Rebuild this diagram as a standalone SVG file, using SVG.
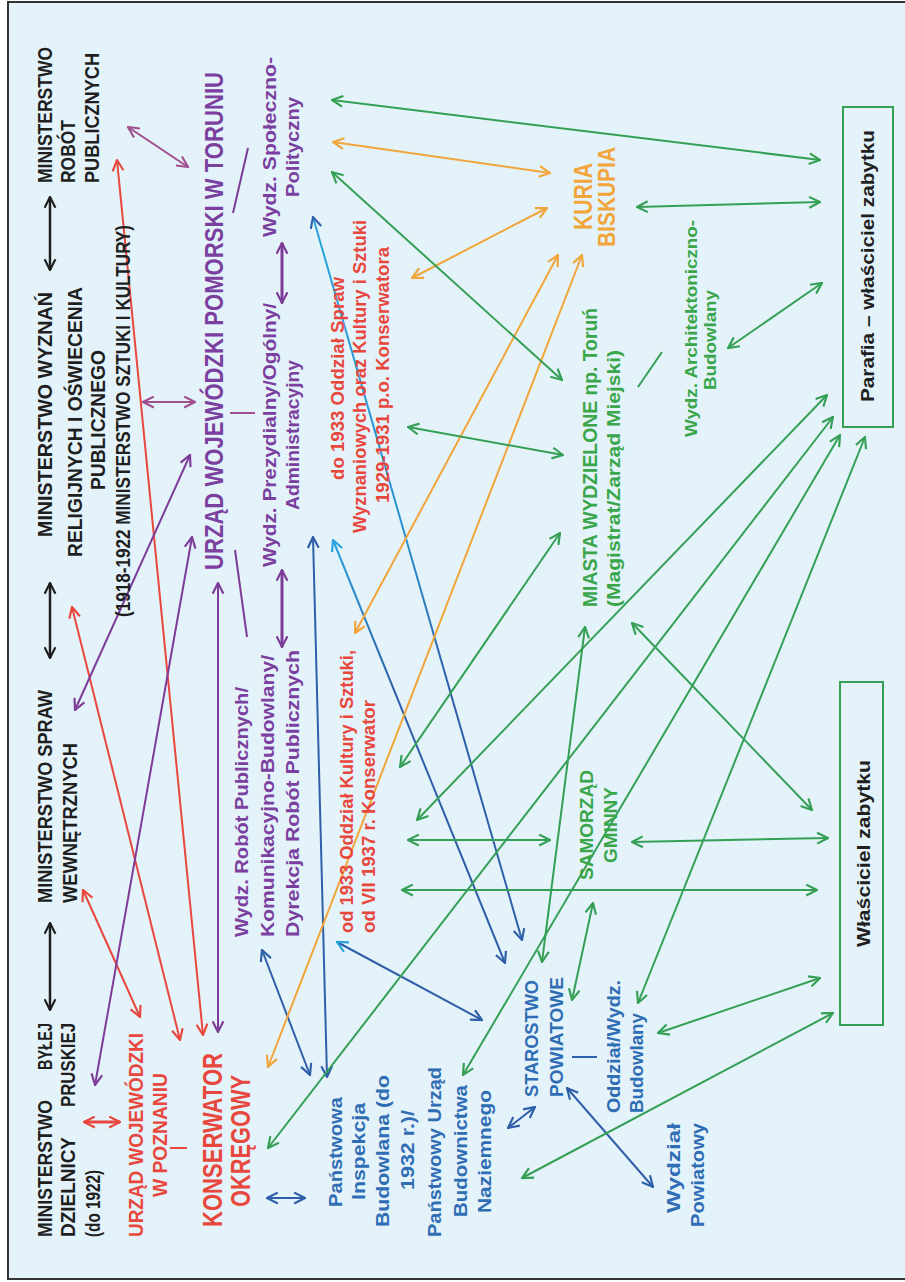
<svg xmlns="http://www.w3.org/2000/svg" width="905" height="1282" viewBox="0 0 905 1282">
<defs>
<style>
text{font-family:"Liberation Sans",Arial,sans-serif;font-weight:bold}
.blk{fill:#1f1f1f}.red{fill:#e8473d}.pur{fill:#7b3f9f}.blu{fill:#2f6db4}.org{fill:#f2a53b}.grn{fill:#39a64a}
.c{fill:none;stroke-width:2}
.ck{stroke:#1f1f1f;stroke-width:2.5;marker-start:url(#mk);marker-end:url(#mk)}
.cr{stroke:#e8473d;marker-start:url(#mr);marker-end:url(#mr)}
.cp{stroke:#7d3c98;marker-start:url(#mp);marker-end:url(#mp)}
.cq{stroke:#a0508f;marker-start:url(#mq);marker-end:url(#mq)}
.cb{stroke:#2f5fa8;marker-start:url(#mb);marker-end:url(#mb)}
.co{stroke:#f2a53b;marker-start:url(#mo);marker-end:url(#mo)}
.cg{stroke:#35a055;marker-start:url(#mg);marker-end:url(#mg)}
.sep{fill:none;stroke-width:2}
</style>
<linearGradient id="gb4" gradientUnits="userSpaceOnUse" x1="313" y1="217" x2="522" y2="940"><stop offset="0" stop-color="#29a3dc"/><stop offset="0.45" stop-color="#2a8fd0"/><stop offset="0.65" stop-color="#2f5fa8"/><stop offset="1" stop-color="#2f5fa8"/></linearGradient>
<linearGradient id="gb5" gradientUnits="userSpaceOnUse" x1="333" y1="540" x2="505" y2="963"><stop offset="0" stop-color="#29a3dc"/><stop offset="0.35" stop-color="#2f5fa8"/><stop offset="1" stop-color="#2f5fa8"/></linearGradient>
<marker id="mk" viewBox="0 0 12 12" refX="11" refY="6" markerWidth="13" markerHeight="13" markerUnits="userSpaceOnUse" orient="auto-start-reverse"><path d="M1,1 L11,6 L1,11" fill="none" stroke="#1f1f1f" stroke-width="2"/></marker>
<marker id="mr" viewBox="0 0 12 12" refX="11" refY="6" markerWidth="13" markerHeight="13" markerUnits="userSpaceOnUse" orient="auto-start-reverse"><path d="M1,1 L11,6 L1,11" fill="none" stroke="#e8473d" stroke-width="2"/></marker>
<marker id="mp" viewBox="0 0 12 12" refX="11" refY="6" markerWidth="13" markerHeight="13" markerUnits="userSpaceOnUse" orient="auto-start-reverse"><path d="M1,1 L11,6 L1,11" fill="none" stroke="#7d3c98" stroke-width="2"/></marker>
<marker id="mq" viewBox="0 0 12 12" refX="11" refY="6" markerWidth="13" markerHeight="13" markerUnits="userSpaceOnUse" orient="auto-start-reverse"><path d="M1,1 L11,6 L1,11" fill="none" stroke="#a0508f" stroke-width="2"/></marker>
<marker id="mb" viewBox="0 0 12 12" refX="11" refY="6" markerWidth="13" markerHeight="13" markerUnits="userSpaceOnUse" orient="auto-start-reverse"><path d="M1,1 L11,6 L1,11" fill="none" stroke="#2f5fa8" stroke-width="2"/></marker>
<marker id="mc" viewBox="0 0 12 12" refX="11" refY="6" markerWidth="13" markerHeight="13" markerUnits="userSpaceOnUse" orient="auto-start-reverse"><path d="M1,1 L11,6 L1,11" fill="none" stroke="#29a3dc" stroke-width="2"/></marker>
<marker id="mo" viewBox="0 0 12 12" refX="11" refY="6" markerWidth="13" markerHeight="13" markerUnits="userSpaceOnUse" orient="auto-start-reverse"><path d="M1,1 L11,6 L1,11" fill="none" stroke="#f2a53b" stroke-width="2"/></marker>
<marker id="mg" viewBox="0 0 12 12" refX="11" refY="6" markerWidth="13" markerHeight="13" markerUnits="userSpaceOnUse" orient="auto-start-reverse"><path d="M1,1 L11,6 L1,11" fill="none" stroke="#35a055" stroke-width="2"/></marker>
</defs>
<rect x="0" y="0" width="905" height="1282" fill="#ffffff"/>
<rect x="8" y="2" width="905" height="1277" fill="#e4f3fa" stroke="#333333" stroke-width="2"/>

<g id="connectors">
<path class="c ck" d="M50,197 L50,270"/>
<path class="c ck" d="M50,583 L50,658"/>
<path class="c ck" d="M50,923 L50,1010"/>
<path class="c cr" d="M83,890 L140,1017"/>
<path class="c cr" d="M72,607 L180,1040"/>
<path class="c cr" d="M117,160 L203,1035"/>
<path class="c cr" style="stroke-width:3" d="M84,1122 L120,1122"/>
<path class="c cp" d="M192,537 L95,1085"/>
<path class="c cp" d="M190,455 L75,710"/>
<path class="c cq" d="M128,127 L188,167"/>
<path class="c cq" d="M143,402 L195,402"/>
<path class="c cp" d="M218,583 L218,1032"/>
<path class="c cp" style="stroke-width:3" d="M282,243 L282,303"/>
<path class="c cp" style="stroke-width:3" d="M282,570 L282,647"/>
<path class="c cb" d="M267,1198 L305,1198"/>
<path class="c cb" d="M262,950 L310,1075"/>
<path class="c cb" d="M313,537 L327,1077"/>
<path class="c cb" style="stroke:url(#gb4)" d="M313,217 L522,940"/>
<path class="c cb" style="stroke:url(#gb5);marker-start:url(#mc)" d="M333,540 L505,963"/>
<path class="c cb" style="marker-start:url(#mc)" d="M337,942 L482,1020"/>
<path class="c cb" d="M508,1128 L535,1107"/>
<path class="c cb" d="M567,1088 L653,1187"/>
<path class="c co" d="M333,142 L550,173"/>
<path class="c co" d="M412,278 L547,208"/>
<path class="c co" d="M558,255 L355,633"/>
<path class="c co" d="M582,255 L268,1067"/>
<path class="c cg" d="M332,100 L820,160"/>
<path class="c cg" d="M332,172 L562,380"/>
<path class="c cg" d="M408,427 L563,455"/>
<path class="c cg" d="M637,207 L820,202"/>
<path class="c cg" d="M822,283 L728,348"/>
<path class="c cg" d="M560,533 L400,767"/>
<path class="c cg" d="M827,395 L417,820"/>
<path class="c cg" d="M585,627 L542,962"/>
<path class="c cg" d="M632,623 L812,810"/>
<path class="c cg" d="M408,840 L550,840"/>
<path class="c cg" d="M402,890 L817,890"/>
<path class="c cg" d="M632,842 L828,838"/>
<path class="c cg" d="M593,903 L572,1000"/>
<path class="c cg" d="M833,417 L268,1148"/>
<path class="c cg" d="M840,435 L463,1075"/>
<path class="c cg" d="M865,437 L638,1003"/>
<path class="c cg" d="M820,978 L658,1033"/>
<path class="c cg" d="M833,1013 L522,1178"/>
<path class="sep" stroke="#e8473d" d="M170,1148 L187,1148"/>
<path class="sep" stroke="#7d3c98" d="M233,213 L248,148"/>
<path class="sep" stroke="#a0508f" d="M230,413 L255,413"/>
<path class="sep" stroke="#7d3c98" d="M235,550 L247,637"/>
<path class="sep" stroke="#2f5fa8" d="M572,1057 L597,1057"/>
<path class="sep" stroke="#35a055" d="M638,387 L662,352"/>
</g>

<g id="min-robot">
<text class="blk" font-size="20" transform="translate(52 183) rotate(-90)" textLength="136" lengthAdjust="spacingAndGlyphs">MINISTERSTWO</text>
<text class="blk" font-size="20" transform="translate(75 183) rotate(-90)" textLength="63" lengthAdjust="spacingAndGlyphs">ROBÓT</text>
<text class="blk" font-size="20" transform="translate(99 183) rotate(-90)" textLength="130" lengthAdjust="spacingAndGlyphs">PUBLICZNYCH</text>
</g>
<g id="min-wyznan">
<text class="blk" font-size="20" transform="translate(52 537) rotate(-90)" textLength="245" lengthAdjust="spacingAndGlyphs">MINISTERSTWO WYZNAŃ</text>
<text class="blk" font-size="20" transform="translate(82 557) rotate(-90)" textLength="270" lengthAdjust="spacingAndGlyphs">RELIGIJNYCH I OŚWIECENIA</text>
<text class="blk" font-size="20" transform="translate(105 490) rotate(-90)" textLength="140" lengthAdjust="spacingAndGlyphs">PUBLICZNEGO</text>
<text class="blk" font-size="20" transform="translate(130 617) rotate(-90)" textLength="392" lengthAdjust="spacingAndGlyphs">(1918-1922 MINISTERSTWO SZTUKI I KULTURY)</text>
</g>
<g id="min-spraw">
<text class="blk" font-size="20" transform="translate(52 903) rotate(-90)" textLength="213" lengthAdjust="spacingAndGlyphs">MINISTERSTWO SPRAW</text>
<text class="blk" font-size="20" transform="translate(77 903) rotate(-90)" textLength="160" lengthAdjust="spacingAndGlyphs">WEWNĘTRZNYCH</text>
</g>
<g id="min-pruskiej">
<text class="blk" font-size="20" transform="translate(52 1237) rotate(-90)" textLength="137" lengthAdjust="spacingAndGlyphs">MINISTERSTWO</text>
<text class="blk" font-size="20" transform="translate(52 1070) rotate(-90)" textLength="47" lengthAdjust="spacingAndGlyphs">BYŁEJ</text>
<text class="blk" font-size="20" transform="translate(75 1237) rotate(-90)" textLength="100" lengthAdjust="spacingAndGlyphs">DZIELNICY</text>
<text class="blk" font-size="20" transform="translate(75 1107) rotate(-90)" textLength="84" lengthAdjust="spacingAndGlyphs">PRUSKIEJ</text>
<text class="blk" font-size="20" transform="translate(100 1237) rotate(-90)" textLength="67" lengthAdjust="spacingAndGlyphs">(do 1922)</text>
</g>
<g id="urzad-poznan">
<text class="red" font-size="20" transform="translate(143 1237) rotate(-90)" textLength="204" lengthAdjust="spacingAndGlyphs">URZĄD WOJEWÓDZKI</text>
<text class="red" font-size="20" transform="translate(167 1197) rotate(-90)" textLength="124" lengthAdjust="spacingAndGlyphs">W POZNANIU</text>
</g>
<g id="konserwator">
<text class="red" font-size="28" transform="translate(222 1227) rotate(-90)" textLength="174" lengthAdjust="spacingAndGlyphs">KONSERWATOR</text>
<text class="red" font-size="28" transform="translate(250 1207) rotate(-90)" textLength="132" lengthAdjust="spacingAndGlyphs">OKRĘGOWY</text>
</g>
<g id="urzad-pomorski">
<text class="pur" font-size="24" transform="translate(223 570) rotate(-90) scale(1 1.1)" textLength="498" lengthAdjust="spacingAndGlyphs">URZĄD WOJEWÓDZKI POMORSKI W TORUNIU</text>
</g>
<g id="wydz-spoleczno">
<text class="pur" font-size="19" transform="translate(276 237) rotate(-90)" textLength="180" lengthAdjust="spacingAndGlyphs">Wydz. Społeczno-</text>
<text class="pur" font-size="19" transform="translate(299 197) rotate(-90)" textLength="100" lengthAdjust="spacingAndGlyphs">Polityczny</text>
</g>
<g id="wydz-prezydialny">
<text class="pur" font-size="19" transform="translate(276 567) rotate(-90)" textLength="264" lengthAdjust="spacingAndGlyphs">Wydz. Prezydialny/Ogólny/</text>
<text class="pur" font-size="19" transform="translate(299 510) rotate(-90)" textLength="150" lengthAdjust="spacingAndGlyphs">Administracyjny</text>
</g>
<g id="wydz-robot">
<text class="pur" font-size="19" transform="translate(248 937) rotate(-90)" textLength="250" lengthAdjust="spacingAndGlyphs">Wydz. Robót Publicznych/</text>
<text class="pur" font-size="19" transform="translate(274 937) rotate(-90)" textLength="282" lengthAdjust="spacingAndGlyphs">Komunikacyjno-Budowlany/</text>
<text class="pur" font-size="19" transform="translate(299 937) rotate(-90)" textLength="287" lengthAdjust="spacingAndGlyphs">Dyrekcja Robót Publicznych</text>
</g>
<g id="oddzial-spraw">
<text class="red" font-size="18" transform="translate(344 480) rotate(-90)" textLength="203" lengthAdjust="spacingAndGlyphs">do 1933 Oddział Spraw</text>
<text class="red" font-size="18" transform="translate(366 533) rotate(-90)" textLength="313" lengthAdjust="spacingAndGlyphs">Wyznaniowych oraz Kultury i Sztuki</text>
<text class="red" font-size="18" transform="translate(389 503) rotate(-90)" textLength="256" lengthAdjust="spacingAndGlyphs">1929-1931 p.o. Konserwatora</text>
</g>
<g id="oddzial-kultury">
<text class="red" font-size="18" transform="translate(353 933) rotate(-90)" textLength="283" lengthAdjust="spacingAndGlyphs">od 1933 Oddział Kultury i Sztuki,</text>
<text class="red" font-size="18" transform="translate(375 933) rotate(-90)" textLength="233" lengthAdjust="spacingAndGlyphs">od VII 1937 r. Konserwator</text>
</g>
<g id="inspekcja">
<text class="blu" font-size="18" transform="translate(342 1207) rotate(-90)" textLength="110" lengthAdjust="spacingAndGlyphs">Państwowa</text>
<text class="blu" font-size="18" transform="translate(365 1200) rotate(-90)" textLength="97" lengthAdjust="spacingAndGlyphs">Inspekcja</text>
<text class="blu" font-size="18" transform="translate(389 1227) rotate(-90)" textLength="152" lengthAdjust="spacingAndGlyphs">Budowlana (do</text>
<text class="blu" font-size="18" transform="translate(414 1190) rotate(-90)" textLength="80" lengthAdjust="spacingAndGlyphs">1932 r.)/</text>
<text class="blu" font-size="18" transform="translate(441 1237) rotate(-90)" textLength="170" lengthAdjust="spacingAndGlyphs">Państwowy Urząd</text>
<text class="blu" font-size="18" transform="translate(467 1217) rotate(-90)" textLength="132" lengthAdjust="spacingAndGlyphs">Budownictwa</text>
<text class="blu" font-size="18" transform="translate(491 1213) rotate(-90)" textLength="123" lengthAdjust="spacingAndGlyphs">Naziemnego</text>
</g>
<g id="starostwo">
<text class="blu" font-size="19" transform="translate(538 1097) rotate(-90)" textLength="117" lengthAdjust="spacingAndGlyphs">STAROSTWO</text>
<text class="blu" font-size="19" transform="translate(563 1097) rotate(-90)" textLength="120" lengthAdjust="spacingAndGlyphs">POWIATOWE</text>
</g>
<g id="oddzial-budowlany">
<text class="blu" font-size="18" transform="translate(620 1113) rotate(-90)" textLength="133" lengthAdjust="spacingAndGlyphs">Oddział/Wydz.</text>
<text class="blu" font-size="18" transform="translate(643 1113) rotate(-90)" textLength="100" lengthAdjust="spacingAndGlyphs">Budowlany</text>
</g>
<g id="wydzial-powiatowy">
<text class="blu" font-size="18" transform="translate(680 1213) rotate(-90)" textLength="90" lengthAdjust="spacingAndGlyphs">Wydział</text>
<text class="blu" font-size="18" transform="translate(704 1227) rotate(-90)" textLength="104" lengthAdjust="spacingAndGlyphs">Powiatowy</text>
</g>
<g id="kuria">
<text class="org" font-size="26" transform="translate(592 230) rotate(-90)" textLength="67" lengthAdjust="spacingAndGlyphs">KURIA</text>
<text class="org" font-size="24" transform="translate(615 247) rotate(-90)" textLength="100" lengthAdjust="spacingAndGlyphs">BISKUPIA</text>
</g>
<g id="miasta">
<text class="grn" font-size="20" transform="translate(597 607) rotate(-90)" textLength="299" lengthAdjust="spacingAndGlyphs">MIASTA WYDZIELONE np. Toruń</text>
<text class="grn" font-size="19" transform="translate(620 607) rotate(-90)" textLength="257" lengthAdjust="spacingAndGlyphs">(Magistrat/Zarząd Miejski)</text>
</g>
<g id="wydz-architektoniczno">
<text class="grn" font-size="17" transform="translate(697 437) rotate(-90)" textLength="217" lengthAdjust="spacingAndGlyphs">Wydz. Architektoniczno-</text>
<text class="grn" font-size="17" transform="translate(716 390) rotate(-90)" textLength="100" lengthAdjust="spacingAndGlyphs">Budowlany</text>
</g>
<g id="samorzad">
<text class="grn" font-size="19" transform="translate(593 880) rotate(-90)" textLength="110" lengthAdjust="spacingAndGlyphs">SAMORZĄD</text>
<text class="grn" font-size="19" transform="translate(617 863) rotate(-90)" textLength="76" lengthAdjust="spacingAndGlyphs">GMINNY</text>
</g>
<g id="wlasciciel">
<rect x="840" y="682" width="43" height="343" fill="none" stroke="#35a055" stroke-width="2"/>
<text class="blk" font-size="18" transform="translate(870 947) rotate(-90)" textLength="187" lengthAdjust="spacingAndGlyphs">Właściciel zabytku</text>
</g>
<g id="parafia">
<rect x="843" y="107" width="50" height="320" fill="none" stroke="#35a055" stroke-width="2"/>
<text class="blk" font-size="18" transform="translate(874 402) rotate(-90)" textLength="272" lengthAdjust="spacingAndGlyphs">Parafia – właściciel zabytku</text>
</g>
</svg>
